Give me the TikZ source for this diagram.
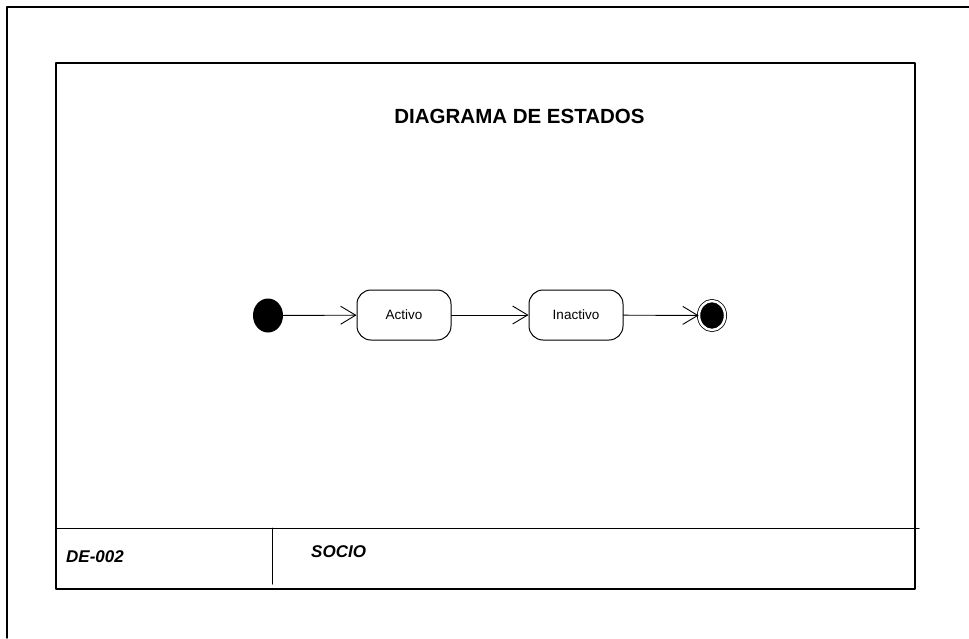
\documentclass[tikz,border=0pt]{standalone}
\usepackage{fontspec}
\setmainfont{Liberation Sans}
\usetikzlibrary{arrows.meta,shapes.geometric}
\begin{document}
\begin{tikzpicture}[x=1pt,y=-1pt,>={Straight Barb[length=15pt,width=18pt,line width=0.9pt]},
	line join=round, line cap=round,
	estado/.style={draw, line width=1pt, rounded corners=14pt, minimum width=94pt, minimum height=50pt, inner sep=0pt, font=\fontsize{13.5}{16}\selectfont},
	inicial/.style={ellipse, fill=black, minimum width=30pt, minimum height=34pt, inner sep=0pt},
	final/.style={ellipse, draw=black, fill=black, line width=0.8pt, double=white, double distance=2.4pt, minimum width=26pt, minimum height=29pt, inner sep=0pt},
	trans/.style={->, line width=0.9pt}]
	\def\xmin{56} \def\xmax{915} \def\ymin{63} \def\ymax{589} \def\ypie{528}
	\useasboundingbox (0,0) rectangle (969,638);
	% marco exterior
	\draw[line width=1.4pt] (7,638)--(7,7)--(969,7);
	% marco interior y pie
	\draw[line width=1.1pt] (\xmin,\ymin) rectangle (\xmax,\ymax);
	\draw[line width=1pt] (\xmin,\ypie)--(919,\ypie);
	\draw[line width=1pt] (272,\ypie)--(272,584);
	\node (titulo) at (519.5,123.2) [anchor=base, font=\bfseries\fontsize{20.5}{24}\selectfont]{DIAGRAMA DE ESTADOS};
	\node (codigo) at (66,562.5) [anchor=base west, inner sep=0pt, font=\bfseries\itshape\fontsize{17}{20}\selectfont]{DE-002};
	\node (clase) at (311,557.5) [anchor=base west, inner sep=0pt, font=\bfseries\itshape\fontsize{17}{20}\selectfont]{SOCIO};
	% estados
	\node[inicial] (ini) at (268,315.5) {};
	\node[estado] (activo) at (404,315) {Activo};
	\node[estado] (inactivo) at (576,315) {Inactivo};
	\node[final] (fin) at (712,315.5) {};
	\draw[trans] (ini)--(activo);
	\draw[trans] (activo)--(inactivo);
	\draw[trans] (inactivo)--(fin);
\end{tikzpicture}
\end{document}
